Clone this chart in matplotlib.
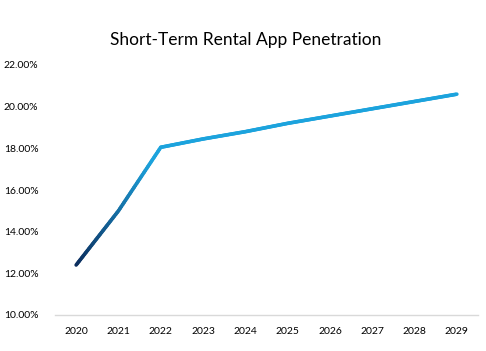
import matplotlib
matplotlib.use("Agg")
import matplotlib.pyplot as plt
import numpy as np
from matplotlib.collections import LineCollection
from matplotlib.colors import LinearSegmentedColormap
from matplotlib.ticker import FuncFormatter

years = [2020, 2021, 2022, 2023, 2024, 2025, 2026, 2027, 2028, 2029]
penetration = [12.4, 15.0, 18.05, 18.45, 18.8, 19.2, 19.55, 19.9, 20.25, 20.6]

title = "Short-Term Rental App Penetration"
dark_col = "#0b2c5c"
light_col = "#1ca3dd"

plt.rcParams['font.family'] = ['Lato', 'DejaVu Sans']

fig = plt.figure(figsize=(4.86, 3.51), dpi=100)
ax = fig.add_axes([55/486, 1-315/351, (478-55)/486, (315-65)/351])

# gradient line: subdivide each segment for colour only
x = np.array(years, dtype=float)
y = np.array(penetration, dtype=float)
cmap = LinearSegmentedColormap.from_list("g", [dark_col, light_col])
segs = []
cols = []
n = 30
for i in range(len(x) - 1):
    for k in range(n):
        t0, t1 = k / n, (k + 1) / n
        xa, xb = x[i] + (x[i+1]-x[i])*t0, x[i] + (x[i+1]-x[i])*t1
        ya, yb = y[i] + (y[i+1]-y[i])*t0, y[i] + (y[i+1]-y[i])*t1
        segs.append([(xa, ya), (xb, yb)])
        pos = (xa + xb) / 2 - x[0]
        cols.append(cmap(min(pos / 1.8, 1.0)))
lc = LineCollection(segs, colors=cols, linewidths=2.6, capstyle='round', joinstyle='round')
ax.add_collection(lc)

ax.set_xlim(2019.5, 2029.5)
ax.set_ylim(10, 22)
ax.set_xticks(years)
ax.set_xticklabels([str(v) for v in years])
ax.set_yticks(np.arange(10, 23, 2))
ax.yaxis.set_major_formatter(FuncFormatter(lambda v, p: f"{v:.2f}%"))

for s in ['top', 'right', 'left']:
    ax.spines[s].set_visible(False)
ax.spines['bottom'].set_color('#d9d9d9')
ax.spines['bottom'].set_linewidth(1.0)
ax.tick_params(axis='both', length=0, labelsize=7.5, colors='#000000')
ax.tick_params(axis='y', pad=12)
ax.tick_params(axis='x', pad=9)

fig.text(246/486, 1-40/351, title, ha='center', va='center', fontsize=12.5)

fig.savefig("out.png", dpi=100, facecolor='white')
